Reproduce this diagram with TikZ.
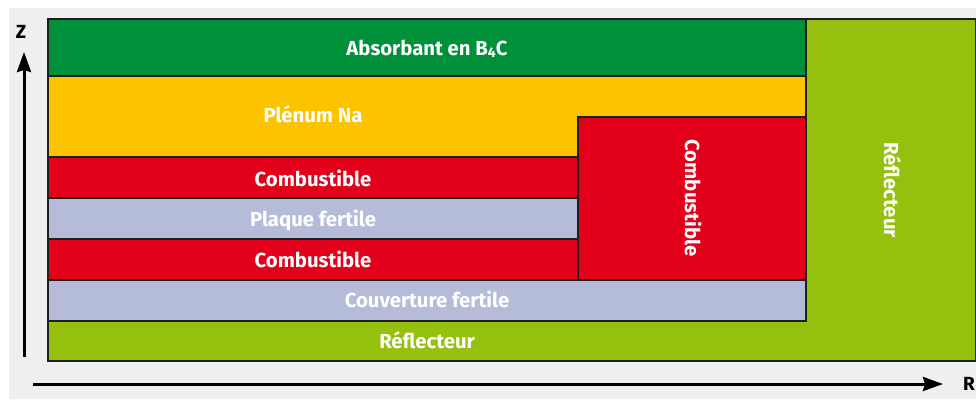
\documentclass[tikz,border=0pt]{standalone}
\usepackage{fontspec}
\setmainfont{Fira Sans}
\usetikzlibrary{arrows.meta}
\definecolor{bg}{HTML}{EFEFEF}
\definecolor{absg}{HTML}{00903A}
\definecolor{plen}{HTML}{FCC400}
\definecolor{comb}{HTML}{E2001A}
\definecolor{fert}{HTML}{B4BCD9}
\definecolor{refl}{HTML}{96C00E}
\definecolor{edgec}{HTML}{1E1E1E}
\tikzset{
  blk/.style={draw=edgec, line width=1.3pt},
  lbl/.style={text=white, font=\bfseries\fontsize{20.3}{20.3}\selectfont, inner sep=0pt, text height=15pt, text depth=1pt},
  axis/.style={line width=3pt, draw=black, -{Stealth[length=20pt, width=14pt, inset=2pt]}},
  axlbl/.style={text=black, font=\bfseries\fontsize{19}{19}\selectfont, inner sep=0pt}
}
\begin{document}
\begin{tikzpicture}[x=1pt,y=-1pt]
\useasboundingbox (0,0) rectangle (976,399);
\fill[bg] (9,8) rectangle (976,399);
% reflector (L-shaped, drawn as one block)
\path[blk, fill=refl] (48,19) rectangle (976,361);
% absorber
\path[blk, fill=absg] (48,19) rectangle (806,76);
% plenum
\path[blk, fill=plen] (48,76) rectangle (806,157);
% couverture fertile
\path[blk, fill=fert] (48,280) rectangle (806,321);
% inner fuel / plaque / fuel
\path[blk, fill=comb] (48,157) rectangle (578,198);
\path[blk, fill=fert] (48,198) rectangle (578,239);
\path[blk, fill=comb] (48,239) rectangle (578,280);
% outer fuel
\path[blk, fill=comb] (578,117) rectangle (806,280);
% labels
\node[lbl] (tabs) at (427,48) {Absorbant en B{\fontsize{14}{14}\selectfont\raisebox{-0.4ex}{4}}C};
\node[lbl] (tplen) at (313,115) {Plénum Na};
\node[lbl] (tc1) at (313,179) {Combustible};
\node[lbl] (tpf) at (313,219) {Plaque fertile};
\node[lbl] (tc2) at (313,260) {Combustible};
\node[lbl] (tcf) at (427,300) {Couverture fertile};
\node[lbl] (tref) at (427,341) {Réflecteur};
\node[lbl, rotate=-90] (tcext) at (692,198) {Combustible};
\node[lbl, rotate=-90] (tref2) at (891,190) {Réflecteur};
% axes
\coordinate (zs) at (24,357);
\coordinate (ze) at (24,52);
\coordinate (rs) at (33,384);
\coordinate (re) at (943,384);
\draw[axis] (zs) -- (ze);
\draw[axis] (rs) -- (re);
\node[axlbl] (zl) at (21,32) {Z};
\node[axlbl, anchor=west] (rl) at (963,384) {R};
\end{tikzpicture}
\end{document}
